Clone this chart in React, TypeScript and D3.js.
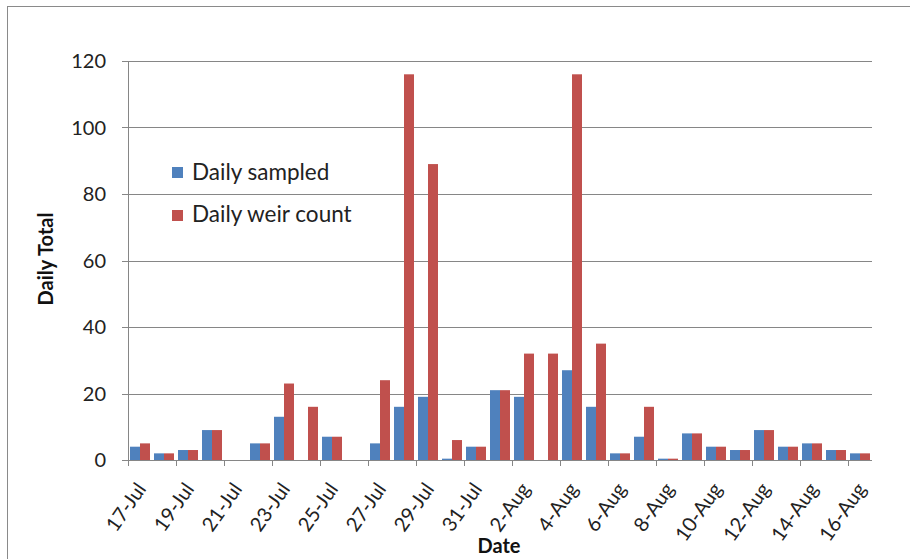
import React from "react";
import * as d3 from "d3";

const categories = [
  "17-Jul","18-Jul","19-Jul","20-Jul","21-Jul","22-Jul","23-Jul","24-Jul","25-Jul","26-Jul",
  "27-Jul","28-Jul","29-Jul","30-Jul","31-Jul","1-Aug","2-Aug","3-Aug","4-Aug","5-Aug",
  "6-Aug","7-Aug","8-Aug","9-Aug","10-Aug","11-Aug","12-Aug","13-Aug","14-Aug","15-Aug","16-Aug",
];
const dailySampled = [4,2,3,9,0,5,13,0,7,0,5,16,19,0.4,4,21,19,0,27,16,2,7,0.4,8,4,3,9,4,5,3,2];
const dailyWeir = [5,2,3,9,0,5,23,16,7,0,24,116,89,6,4,21,32,32,116,35,2,16,0.4,8,4,3,9,4,5,3,2];
const yTicks = [0, 20, 40, 60, 80, 100, 120];
const seriesNames = ["Daily sampled", "Daily weir count"];
const seriesColors = ["#4F81BD", "#C0504D"];

const W = 910, H = 559;
const left = 128, right = 872, top = 61, bottom = 460;
const FONT = "Lato, 'Open Sans', sans-serif";

export default function App() {
  const x = d3.scaleBand<string>().domain(categories).range([left, right]).paddingInner(1 / 6).paddingOuter(1 / 12);
  const sub = d3.scaleBand<string>().domain(["0", "1"]).range([0, x.bandwidth()]);
  const y = d3.scaleLinear().domain([0, 120]).range([bottom, top]);
  const step = x.step();
  const series = [dailySampled, dailyWeir];

  return (
    <svg width={W} height={H} style={{ position: "absolute", left: 0, top: 0, background: "#fff" }}>
      <rect x={0} y={0} width={W} height={H} fill="#fff" />
      <rect x={7.5} y={6.5} width={W + 10} height={H + 10} fill="none" stroke="#8a8a8a" strokeWidth={1} />
      {yTicks.map((t) => (
        <g key={t}>
          <line x1={left - 6} x2={right} y1={Math.round(y(t)) + 0.5} y2={Math.round(y(t)) + 0.5} stroke="#868686" strokeWidth={1} />
          <text x={106} y={y(t)} dy="0.36em" textAnchor="end" fontFamily={FONT} fontSize={20} fill="#222">{t}</text>
        </g>
      ))}
      {categories.map((c, i) =>
        series.map((s, k) => {
          const v = s[i];
          if (v <= 0) return null;
          return (
            <rect key={c + k} x={(x(c) as number) + (sub(String(k)) as number)} y={y(v)} width={sub.bandwidth()} height={bottom - y(v)} fill={seriesColors[k]} />
          );
        })
      )}
      <line x1={left + 0.5} x2={left + 0.5} y1={top} y2={bottom} stroke="#868686" />
      <line x1={left} x2={right} y1={bottom + 0.5} y2={bottom + 0.5} stroke="#868686" />
      {categories.map((c, i) =>
        i % 2 === 0 ? (
          <line key={"t" + c} x1={left + i * step + 0.5} x2={left + i * step + 0.5} y1={bottom} y2={bottom + 6} stroke="#868686" />
        ) : null
      )}
      {categories.map((c, i) => {
        if (i % 2 !== 0) return null;
        const cx = (x(c) as number) + x.bandwidth() / 2;
        return (
          <text key={"l" + c} transform={`translate(${cx + 7},${489}) rotate(-55)`} textAnchor="end" fontFamily={FONT} fontSize={20} fill="#222">{c}</text>
        );
      })}
      <text transform={`translate(53,259) rotate(-90)`} textAnchor="middle" fontFamily={FONT} fontWeight="bold" fontSize={20} fill="#111">Daily Total</text>
      <text x={(left + right) / 2 - 1} y={553} textAnchor="middle" fontFamily={FONT} fontWeight="bold" fontSize={20} fill="#111">Date</text>
      {seriesNames.map((n, k) => (
        <g key={n}>
          <rect x={172} y={167 + k * 43} width={11} height={11} fill={seriesColors[k]} />
          <text x={192} y={180 + k * 42} fontFamily={FONT} fontSize={22.5} fill="#222">{n}</text>
        </g>
      ))}
    </svg>
  );
}
